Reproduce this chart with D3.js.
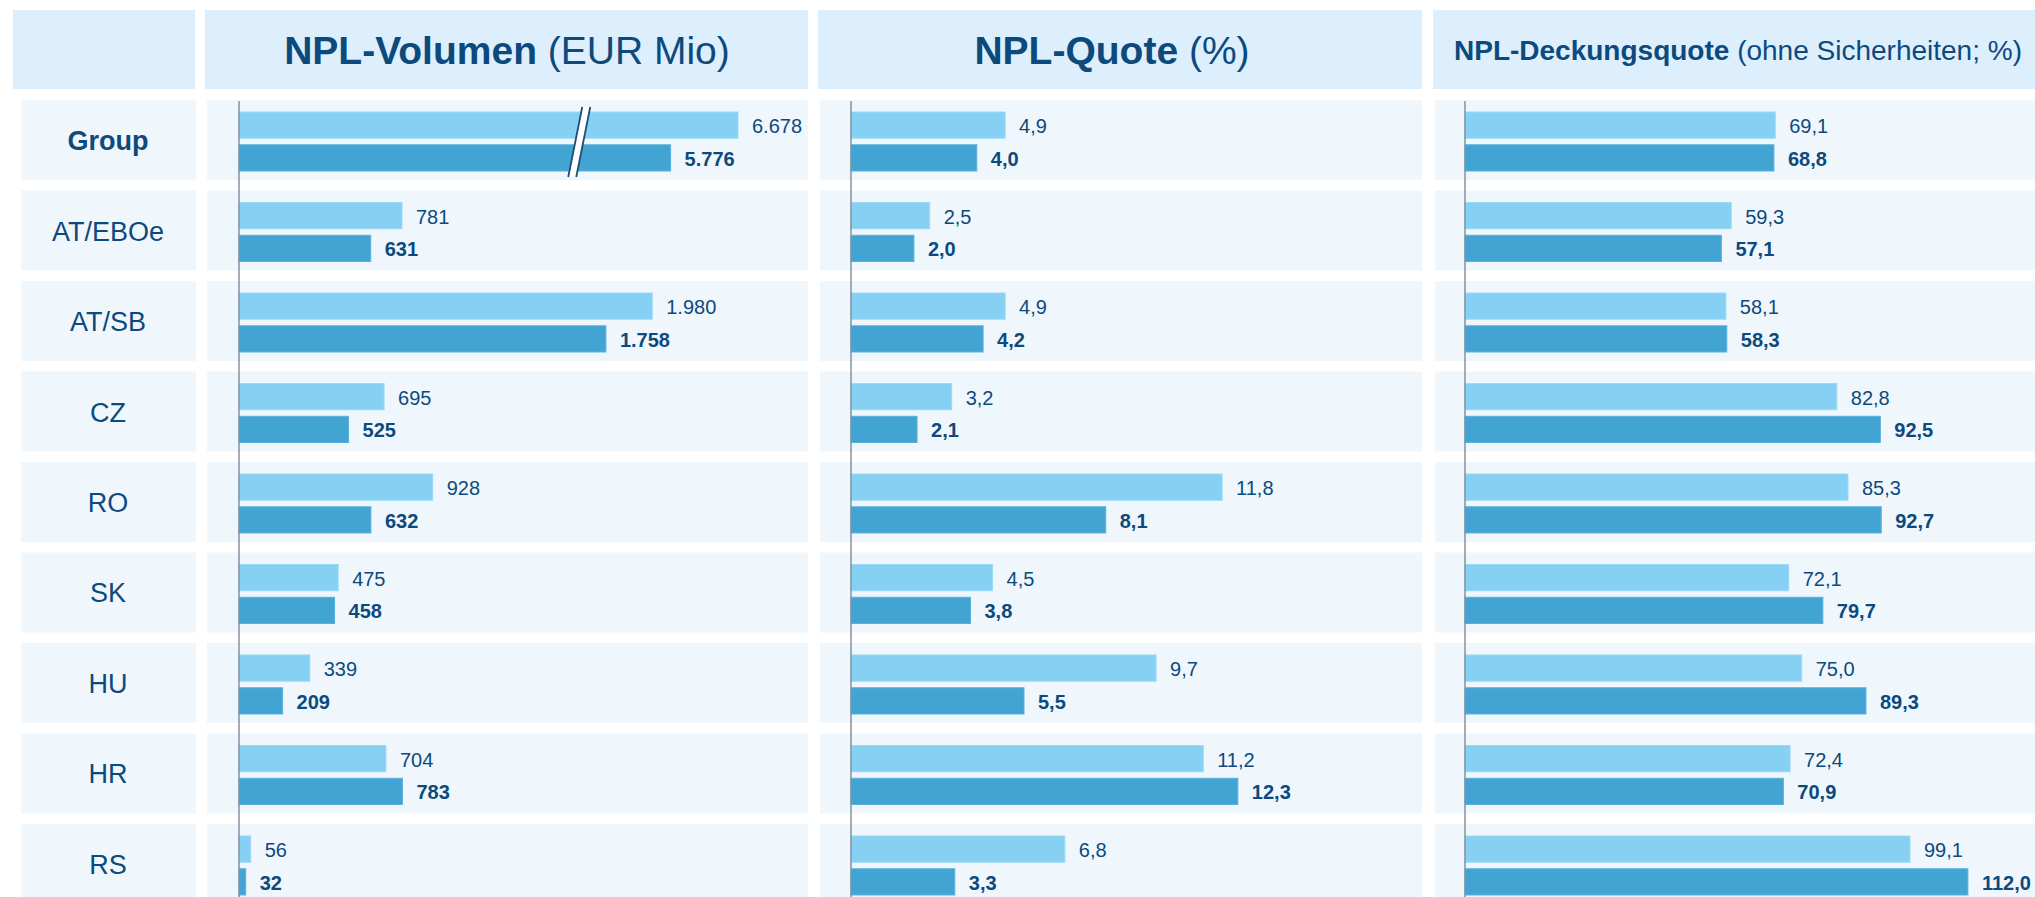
<!DOCTYPE html>
<html>
<head>
<meta charset="utf-8">
<script src="https://cdn.jsdelivr.net/npm/d3@7"></script>
<style>
  html, body { margin: 0; padding: 0; background: #ffffff; }
  svg { display: block; font-family: "Liberation Sans", Arial, sans-serif; }
</style>
</head>
<body>
<div id="chart"></div>
<script>
// rows
const categories = ["Group", "AT/EBOe", "AT/SB", "CZ", "RO", "SK", "HU", "HR", "RS"];

// NPL-Volumen (EUR Mio) - previous / current
const volumePrev = [6678, 781, 1980, 695, 928, 475, 339, 704, 56];
const volumeCurr = [5776, 631, 1758, 525, 632, 458, 209, 783, 32];

// NPL-Quote (%)
const quotePrev = [4.9, 2.5, 4.9, 3.2, 11.8, 4.5, 9.7, 11.2, 6.8];
const quoteCurr = [4.0, 2.0, 4.2, 2.1, 8.1, 3.8, 5.5, 12.3, 3.3];

// NPL-Deckungsquote (ohne Sicherheiten; %)
const coverPrev = [69.1, 59.3, 58.1, 82.8, 85.3, 72.1, 75.0, 72.4, 99.1];
const coverCurr = [68.8, 57.1, 58.3, 92.5, 92.7, 79.7, 89.3, 70.9, 112.0];

const width = 2035, height = 897;
const colors = {
    header: "#ddeefd",
    row: "#eff7fd",
    light: "#86d0f4",
    dark: "#42a4d3",
    text: "#0c4a7e",
    axis: "#8592a0"
};

const de = d3.formatLocale({ decimal: ",", thousands: ".", grouping: [3], currency: ["", " €"] });
const fmtInt = de.format(",d");
const fmtDec = de.format(".1f");

const svg = d3.select("#chart").append("svg")
    .attr("width", width)
    .attr("height", height);

// row bands
const y = d3.scaleBand()
    .domain(categories)
    .range([100, 904])
    .paddingInner(0.116)
    .paddingOuter(0);

const sub = d3.scaleBand()
    .domain(["prev", "curr"])
    .range([12, 71])
    .paddingInner(0.2);

// panel definitions (column frame + scale)
const panels = [
    {
        key: "vol", x0: 205, x1: 808, axisX: 239,
        scale: d3.scaleLinear().domain([0, 2000]).range([239, 656.4]),
        prev: volumePrev, curr: volumeCurr, fmt: fmtInt,
        titleBold: "NPL-Volumen", titleRest: " (EUR Mio)", titleSize: 39, titleX: 507, anchor: "middle"
    },
    {
        key: "quote", x0: 818, x1: 1422, axisX: 851,
        scale: d3.scaleLinear().domain([0, 10]).range([851, 1165.5]),
        prev: quotePrev, curr: quoteCurr, fmt: fmtDec,
        titleBold: "NPL-Quote", titleRest: " (%)", titleSize: 39, titleX: 1112, anchor: "middle"
    },
    {
        key: "cover", x0: 1433, x1: 2060, axisX: 1465,
        scale: d3.scaleLinear().domain([0, 100]).range([1465, 1914]),
        prev: coverPrev, curr: coverCurr, fmt: fmtDec,
        titleBold: "NPL-Deckungsquote", titleRest: " (ohne Sicherheiten; %)", titleSize: 28, titleX: 1454, anchor: "start"
    }
];

// Group volume is drawn on its own (broken) scale
const groupScale = d3.scaleLinear().domain([0, 6678]).range([239, 738]);
const breakAt = 4500;

// header boxes
svg.append("rect")
    .attr("x", 13).attr("y", 10).attr("width", 182).attr("height", 79)
    .attr("fill", colors.header);

panels.forEach(p => {
    svg.append("rect")
        .attr("x", p.x0).attr("y", 10)
        .attr("width", p.x1 - p.x0).attr("height", 79)
        .attr("fill", colors.header);

    const t = svg.append("text")
        .attr("x", p.titleX)
        .attr("y", 50)
        .attr("text-anchor", p.anchor)
        .attr("dominant-baseline", "central")
        .attr("fill", colors.text)
        .style("font-size", p.titleSize + "px");
    t.append("tspan").attr("font-weight", "bold").text(p.titleBold);
    t.append("tspan").text(p.titleRest);
});

// row backgrounds + category labels
const rows = svg.append("g").selectAll("g")
    .data(categories)
    .enter().append("g");

rows.append("rect")
    .attr("x", 21).attr("y", d => y(d))
    .attr("width", 175).attr("height", y.bandwidth())
    .attr("fill", colors.row);

rows.append("text")
    .attr("x", 108)
    .attr("y", d => y(d) + y.bandwidth() / 2 + 1)
    .attr("text-anchor", "middle")
    .attr("dominant-baseline", "central")
    .attr("fill", colors.text)
    .attr("font-weight", d => d === "Group" ? "bold" : "normal")
    .style("font-size", "27px")
    .text(d => d);

panels.forEach(p => {
    svg.append("g").selectAll("rect")
        .data(categories)
        .enter().append("rect")
        .attr("x", p.x0 + 2).attr("y", d => y(d))
        .attr("width", p.x1 - p.x0 - 2).attr("height", y.bandwidth())
        .attr("fill", colors.row);
});

// bars + labels
panels.forEach(p => {
    const data = [];
    categories.forEach((c, i) => {
        data.push({ cat: c, series: "prev", value: p.prev[i] });
        data.push({ cat: c, series: "curr", value: p.curr[i] });
    });
    const xs = d => (p.key === "vol" && d.cat === "Group") ? groupScale : p.scale;

    const g = svg.append("g");

    g.selectAll("rect")
        .data(data)
        .enter().append("rect")
        .attr("x", p.axisX)
        .attr("y", d => y(d.cat) + sub(d.series))
        .attr("width", d => xs(d)(d.value) - p.axisX)
        .attr("height", sub.bandwidth())
        .attr("fill", d => d.series === "prev" ? colors.light : colors.dark)
        .attr("stroke", d => d.series === "prev" ? "#9bd9f7" : "#5ab0da")
        .attr("stroke-width", 1);

    g.selectAll("text")
        .data(data)
        .enter().append("text")
        .attr("x", d => xs(d)(d.value) + 14)
        .attr("y", d => y(d.cat) + sub(d.series) + sub.bandwidth() / 2 + 1)
        .attr("dominant-baseline", "central")
        .attr("fill", colors.text)
        .attr("font-weight", d => d.series === "curr" ? "bold" : "normal")
        .style("font-size", "20px")
        .text(d => p.fmt(d.value));

    // axis line
    svg.append("line")
        .attr("x1", p.axisX).attr("x2", p.axisX)
        .attr("y1", y(categories[0]) + 1).attr("y2", height)
        .attr("stroke", colors.axis)
        .attr("stroke-width", 1.5);
});

// break mark on the Group volume bars
const bx = groupScale(breakAt);
const by0 = y("Group") + 7, by1 = y("Group") + 77;
const slant = 14, gap = 8;
svg.append("path")
    .attr("d", `M${bx + slant / 2},${by0} L${bx + slant / 2 + gap},${by0} L${bx - slant / 2 + gap},${by1} L${bx - slant / 2},${by1} Z`)
    .attr("fill", "#ffffff")
    .attr("stroke", "none");
[0, gap].forEach(o => {
    svg.append("line")
        .attr("x1", bx + slant / 2 + o).attr("y1", by0)
        .attr("x2", bx - slant / 2 + o).attr("y2", by1)
        .attr("stroke", "#1d4f78")
        .attr("stroke-width", 1.8);
});
</script>
</body>
</html>
